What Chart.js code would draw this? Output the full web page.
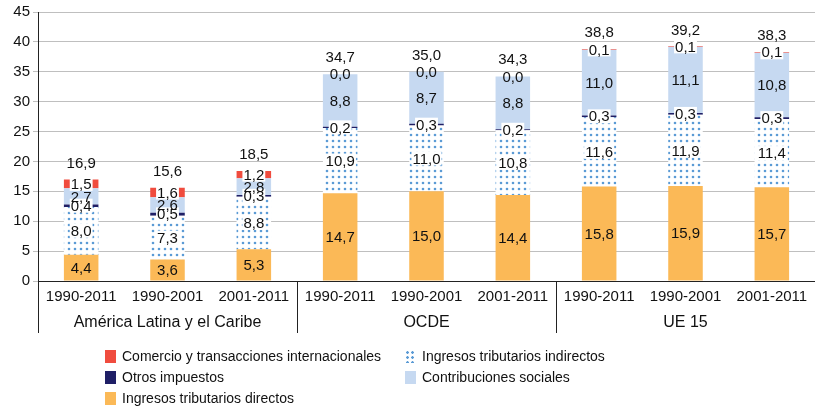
<!DOCTYPE html>
<html>
<head>
<meta charset="utf-8">
<script src="https://cdn.jsdelivr.net/npm/chart.js@4.4.1/dist/chart.umd.min.js"></script>
<style>
  body { margin: 0; background: #fff; font-family: "Liberation Sans", Arial, sans-serif; }
  #wrap { position: relative; width: 815px; height: 411px; }
  #legend { position: absolute; left: 105px; top: 348px; width: 700px; font-size: 14px; color: #111; }
  .item { position: absolute; display: flex; align-items: center; white-space: nowrap; }
  .box { width: 11px; height: 13px; margin-right: 6px; }
</style>
</head>
<body>
<div id="wrap">
  <canvas id="chart" width="815" height="411"></canvas>
  <div id="legend"></div>
</div>
<script>
const categories = ['1990-2011', '1990-2001', '2001-2011', '1990-2011', '1990-2001', '2001-2011', '1990-2011', '1990-2001', '2001-2011'];
const groups = ['América Latina y el Caribe', 'OCDE', 'UE 15'];

const directos = [4.4, 3.6, 5.3, 14.7, 15.0, 14.4, 15.8, 15.9, 15.7];
const indirectos = [8.0, 7.3, 8.8, 10.9, 11.0, 10.8, 11.6, 11.9, 11.4];
const otros = [0.4, 0.5, 0.3, 0.2, 0.3, 0.2, 0.3, 0.3, 0.3];
const contribuciones = [2.7, 2.6, 2.8, 8.8, 8.7, 8.8, 11.0, 11.1, 10.8];
const comercio = [1.5, 1.6, 1.2, 0.0, 0.0, 0.0, 0.1, 0.1, 0.1];
const totals = [16.9, 15.6, 18.5, 34.7, 35.0, 34.3, 38.8, 39.2, 38.3];

const FONT = '"Liberation Sans", Arial, sans-serif';
const ctx = document.getElementById('chart').getContext('2d');

// dotted fill for indirect taxes
function dotPattern() {
    const c = document.createElement('canvas');
    c.width = 6; c.height = 6;
    const p = c.getContext('2d');
    p.fillStyle = '#fff';
    p.fillRect(0, 0, 6, 6);
    p.fillStyle = '#5b9bd5';
    p.beginPath();
    p.arc(3, 3, 1.3, 0, Math.PI * 2);
    p.fill();
    return ctx.createPattern(c, 'repeat');
}
const dots = dotPattern();

const datasets = [
    { label: 'Ingresos tributarios directos', data: directos, backgroundColor: '#fbb957', labelBg: false, legendPos: [0, 2] },
    { label: 'Ingresos tributarios indirectos', data: indirectos, backgroundColor: dots, labelBg: true, legendPos: [1, 0] },
    { label: 'Otros impuestos', data: otros, backgroundColor: '#1f1f66', labelBg: true, legendPos: [0, 1] },
    { label: 'Contribuciones sociales', data: contribuciones, backgroundColor: '#c6d9f1', labelBg: false, legendPos: [1, 1] },
    { label: 'Comercio y transacciones internacionales', data: comercio, backgroundColor: '#f04c3e', labelBg: true, legendPos: [0, 0] }
];

const fmt = v => v.toFixed(1).replace('.', ',');

const valueLabels = {
    id: 'valueLabels',
    afterDatasetsDraw(chart) {
        const c = chart.ctx;
        const y = chart.scales.y;
        c.save();
        c.font = '15px ' + FONT;
        c.textAlign = 'center';
        c.textBaseline = 'middle';
        chart.data.datasets.forEach((ds, di) => {
            chart.getDatasetMeta(di).data.forEach((bar, i) => {
                const v = ds.data[i];
                const cy = (bar.y + bar.base) / 2;
                const t = fmt(v);
                if (ds.labelBg && v > 0) {
                    const w = c.measureText(t).width;
                    c.fillStyle = '#fff';
                    c.fillRect(bar.x - w / 2 - 1, cy - 7, w + 2, 14);
                }
                c.fillStyle = '#111';
                c.fillText(t, bar.x, cy + 1);
            });
        });
        // totals above the stacks
        const meta = chart.getDatasetMeta(0);
        totals.forEach((v, i) => {
            c.fillStyle = '#111';
            c.fillText(fmt(v), meta.data[i].x, y.getPixelForValue(v) - 16);
        });
        c.restore();
    }
};

const groupAxis = {
    id: 'groupAxis',
    afterDraw(chart) {
        const c = chart.ctx;
        const x = chart.scales.x;
        const a = chart.chartArea;
        c.save();
        c.fillStyle = '#111';
        c.textAlign = 'center';
        c.textBaseline = 'middle';
        c.font = '15px ' + FONT;
        categories.forEach((lab, i) => c.fillText(lab, x.getPixelForValue(i), a.bottom + 16));
        c.font = '16px ' + FONT;
        c.strokeStyle = '#222';
        c.lineWidth = 1;
        groups.forEach((g, gi) => {
            const left = x.getPixelForValue(gi * 3) - (x.getPixelForValue(1) - x.getPixelForValue(0)) / 2;
            const mid = x.getPixelForValue(gi * 3 + 1);
            c.fillText(g, mid, a.bottom + 42);
            c.beginPath();
            c.moveTo(Math.round(left) + 0.5, a.bottom);
            c.lineTo(Math.round(left) + 0.5, a.bottom + 52);
            c.stroke();
        });
        c.restore();
    }
};

new Chart(ctx, {
    type: 'bar',
    data: { labels: categories, datasets: datasets },
    options: {
        responsive: false,
        animation: false,
        devicePixelRatio: 1,
        layout: { padding: { top: 12, bottom: 130, left: 0, right: 0 } },
        datasets: { bar: { categoryPercentage: 1, barPercentage: 0.4 } },
        plugins: { legend: { display: false }, tooltip: { enabled: false } },
        scales: {
            x: {
                stacked: true,
                ticks: { display: false },
                grid: { display: false, drawTicks: false },
                border: { color: '#222' },
                afterFit: s => { s.height = 0; }
            },
            y: {
                stacked: true,
                min: 0, max: 45,
                ticks: { stepSize: 5, color: '#111', font: { size: 15, family: FONT }, padding: 3 },
                grid: { color: '#bfbfbf', borderDash: [8, 4], tickLength: 5, tickBorderDash: [] },
                border: { color: '#222' },
                afterFit: s => { s.width = 38; }
            }
        }
    },
    plugins: [valueLabels, groupAxis]
});

// legend in two columns
const legend = document.getElementById('legend');
datasets.forEach(ds => {
    const item = document.createElement('div');
    item.className = 'item';
    item.style.left = (ds.legendPos[0] * 300) + 'px';
    item.style.top = (ds.legendPos[1] * 21) + 'px';
    const box = document.createElement('span');
    box.className = 'box';
    if (ds.backgroundColor === dots) {
        box.style.background = 'radial-gradient(circle, #5b9bd5 1.2px, #fff 1.5px) 0 0 / 5px 5px';
    } else {
        box.style.background = ds.backgroundColor;
    }
    item.appendChild(box);
    item.appendChild(document.createTextNode(ds.label));
    legend.appendChild(item);
});
</script>
</body>
</html>
